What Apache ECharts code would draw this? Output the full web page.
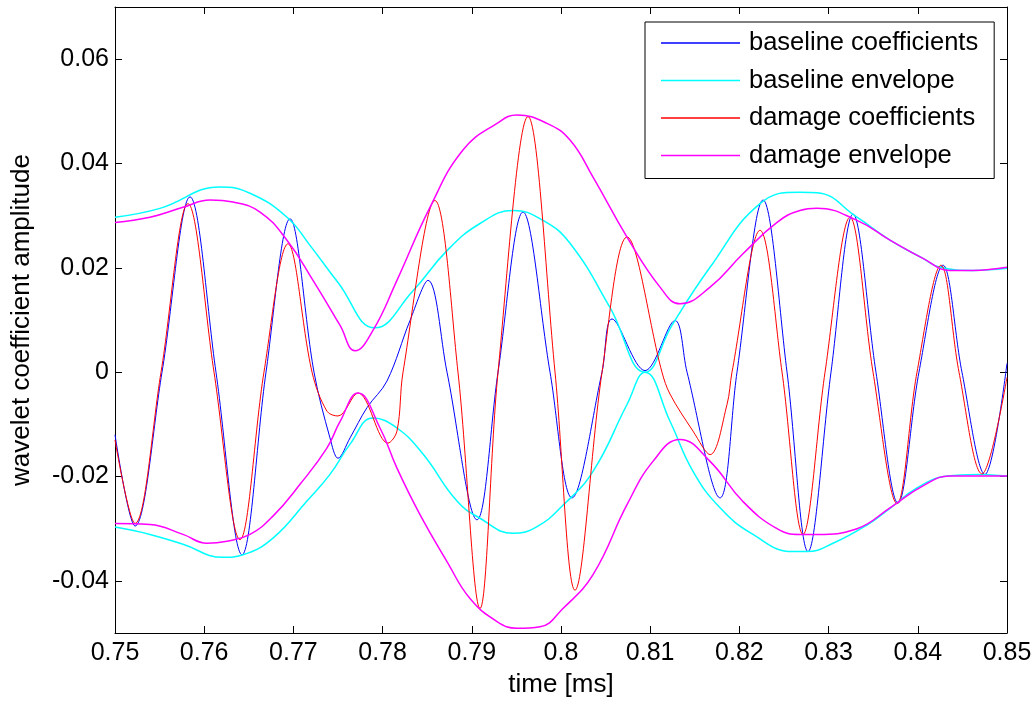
<!DOCTYPE html>
<html><head><meta charset="utf-8">
<script src="https://cdn.jsdelivr.net/npm/echarts@6/dist/echarts.min.js"></script>
<style>html,body{margin:0;padding:0;background:#fff}#chart{width:1036px;height:704px}</style>
</head><body><div id="chart"></div>
<script>
// time [ms], amplitude
const baseCoef = [
  [0.75,-0.012],[0.75224,-0.0295],[0.75527,0],[0.75841,0.0336],[0.76132,0],[0.76424,-0.035],
  [0.76693,0],[0.76962,0.0294],[0.77231,0],[0.7741,-0.0126],[0.775,-0.0165],[0.77635,-0.0126],
  [0.77825,-0.0068],[0.78049,-0.0017],[0.78307,0.0099],[0.78509,0.0176],[0.78722,0],
  [0.79058,-0.0283],[0.79294,0],[0.79574,0.0307],[0.79877,0],[0.80123,-0.0241],[0.8046,0],
  [0.80572,0.0102],[0.80942,0.0003],[0.81278,0.0099],[0.81413,0],[0.81783,-0.0241],[0.81973,0],
  [0.82265,0.033],[0.82534,0],[0.82769,-0.0344],[0.83027,0],[0.83274,0.0303],[0.83531,0],
  [0.83778,-0.0251],[0.84013,0],[0.84283,0.0205],[0.84495,0],[0.84753,-0.0196],[0.85,0.0017]
];
const damageCoef = [
  [0.75,-0.013],[0.75224,-0.029],[0.75516,0],[0.75818,0.0323],[0.7611,0],[0.76401,-0.0321],
  [0.7667,0],[0.76939,0.0246],[0.77209,0],[0.77377,-0.0075],[0.775,-0.0084],[0.77724,-0.004],
  [0.7806,-0.0136],[0.78161,-0.0113],[0.78229,0],[0.78587,0.0329],[0.78845,0],[0.79092,-0.0453],
  [0.79294,0],[0.7963,0.049],[0.79933,0],[0.80157,-0.0418],[0.8046,0],[0.8074,0.0259],
  [0.81132,0],[0.81222,-0.0042],[0.8148,-0.0113],[0.81671,-0.0158],[0.81861,-0.0062],[0.81917,0],
  [0.82231,0.0272],[0.82478,0],[0.82713,-0.0311],[0.8296,0],[0.8324,0.0297],[0.83498,0],
  [0.83767,-0.0252],[0.83991,0],[0.8426,0.0205],[0.84462,0],[0.8472,-0.0195],[0.85,-0.001]
];
const baseEnvUpper = [
  [0.75,0.0297],[0.75504,0.0314],[0.76177,0.0355],[0.76513,0.0343],[0.76928,0.0297],[0.77186,0.0243],
  [0.775,0.0172],[0.77915,0.0085],[0.78341,0.0156],[0.78722,0.0233],[0.79092,0.0285],[0.79462,0.031],
  [0.79798,0.0291],[0.80101,0.0247],[0.80549,0.0124],[0.80942,0],[0.81245,0.009],[0.81671,0.0201],
  [0.82231,0.0323],[0.82679,0.0345],[0.8287,0.0344],[0.83318,0.0297],[0.83688,0.0253],[0.84058,0.0218],
  [0.84249,0.0201],[0.84619,0.0195],[0.85,0.0199]
];
const baseEnvLower = [
  [0.75,-0.0297],[0.75392,-0.0311],[0.75762,-0.033],[0.76211,-0.0355],[0.76435,-0.035],[0.76771,-0.0318],
  [0.77152,-0.0247],[0.7741,-0.0196],[0.77635,-0.0138],[0.77892,-0.0088],[0.78161,-0.0107],[0.78453,-0.0157],
  [0.78834,-0.0247],[0.79092,-0.028],[0.79462,-0.0309],[0.79731,-0.0296],[0.80011,-0.0257],[0.80359,-0.019],
  [0.8074,-0.0062],[0.80942,0],[0.81222,-0.0094],[0.8148,-0.019],[0.81783,-0.026],[0.82152,-0.0311],
  [0.82601,-0.0344],[0.82758,-0.0344],[0.8305,-0.0328],[0.8343,-0.0293],[0.83688,-0.0261],[0.83991,-0.0222],
  [0.84327,-0.0199],[0.84664,-0.0196],[0.85,-0.0199]
];
const damageEnvUpper = [
  [0.75,0.0287],[0.75392,0.0297],[0.75762,0.0316],[0.76065,0.033],[0.76323,0.0326],[0.76626,0.0307],
  [0.76928,0.0253],[0.7722,0.0176],[0.77522,0.009],[0.77691,0.0041],[0.77892,0.008],[0.78161,0.0176],
  [0.78531,0.0316],[0.78901,0.0426],[0.79283,0.0477],[0.79507,0.0493],[0.79843,0.0477],[0.80101,0.0445],
  [0.80359,0.0374],[0.8074,0.0259],[0.8111,0.0163],[0.81334,0.0131],[0.81671,0.0163],[0.8204,0.0227],
  [0.82422,0.0287],[0.82679,0.031],[0.8287,0.0314],[0.83318,0.0291],[0.83688,0.0253],[0.84058,0.0218],
  [0.84361,0.0195],[0.84619,0.0195],[0.85,0.0201]
];
const damageEnvLower = [
  [0.75,-0.029],[0.75392,-0.0292],[0.75762,-0.0311],[0.76031,-0.0328],[0.76256,-0.0324],[0.76513,-0.0311],
  [0.76771,-0.0276],[0.77074,-0.0215],[0.77377,-0.0145],[0.77522,-0.0095],[0.77724,-0.004],[0.77971,-0.0107],
  [0.78161,-0.0184],[0.78419,-0.0273],[0.78722,-0.0363],[0.7898,-0.0434],[0.79283,-0.0478],[0.79507,-0.0491],
  [0.79765,-0.0488],[0.80022,-0.0453],[0.80359,-0.0388],[0.8074,-0.0254],[0.81031,-0.0171],[0.81334,-0.0129],
  [0.81671,-0.0171],[0.8204,-0.0248],[0.82422,-0.03],[0.82679,-0.0311],[0.8287,-0.0311],[0.83318,-0.03],
  [0.83688,-0.026],[0.84058,-0.0218],[0.84361,-0.0199],[0.85,-0.0199]
];
const yTickValues = [-0.04, -0.02, 0, 0.02, 0.04, 0.06];
const legendNames = ['baseline coefficients','baseline envelope','damage coefficients','damage envelope'];

const font = '"Liberation Sans", Arial, Helvetica, sans-serif';
const chart = echarts.init(document.getElementById('chart'), null, {renderer:'canvas'});
const lineAxis = {show:true, onZero:false, lineStyle:{color:'#000', width:1}};
const tick = {show:true, inside:true, length:7, lineStyle:{color:'#000', width:1}};
function mk(name, data, color, width, smooth) {
  return {type:'line', name:name, data:data, color:color, showSymbol:false, symbol:'none',
    smooth:smooth, lineStyle:{color:color, width:width}, xAxisIndex:0, yAxisIndex:0, silent:true};
}
const option = {
  animation:false,
  backgroundColor:'#fff',
  grid:{left:115, top:7, width:892, height:626, containLabel:false, outerBoundsMode:'none'},
  legend:{
    orient:'vertical', left:645, top:22, data:legendNames,
    icon:'rect', itemWidth:79, itemHeight:1.5, itemGap:7.5,
    padding:[6,16,8,16], borderColor:'#000', borderWidth:1, backgroundColor:'#fff',
    textStyle:{fontFamily:font, fontSize:25.5, color:'#000', lineHeight:30, padding:[0,0,0,4]}
  },
  xAxis:[
    {type:'value', min:0.75, max:0.85, interval:0.01, position:'bottom',
     axisLine:lineAxis, axisTick:tick, splitLine:{show:false},
     axisLabel:{fontFamily:font, fontSize:25, color:'#000', margin:8},
     name:'time [ms]', nameLocation:'middle', nameGap:39,
     nameTextStyle:{fontFamily:font, fontSize:26, color:'#000'}},
    {type:'value', min:0.75, max:0.85, interval:0.01, position:'top',
     axisLine:lineAxis, axisTick:tick, splitLine:{show:false}, axisLabel:{show:false}}
  ],
  yAxis:[
    {type:'value', min:-0.05, max:0.07, position:'left',
     axisLine:lineAxis, axisTick:Object.assign({customValues:yTickValues}, tick), splitLine:{show:false},
     axisLabel:{customValues:yTickValues, fontFamily:font, fontSize:25, color:'#000', margin:6,
       formatter:function(v){ return Math.abs(v) < 1e-9 ? '0' : v.toFixed(2); }},
     name:'wavelet coefficient amplitude', nameLocation:'middle', nameGap:80,
     nameTextStyle:{fontFamily:font, fontSize:26, color:'#000'}},
    {type:'value', min:-0.05, max:0.07, position:'right',
     axisLine:lineAxis, axisTick:Object.assign({customValues:yTickValues}, tick), splitLine:{show:false},
     axisLabel:{show:false}}
  ],
  series:[
    mk(legendNames[0], baseCoef, '#0000ff', 1, 0.35),
    mk(legendNames[1], baseEnvUpper, '#00ffff', 1.5, 0.45),
    mk(legendNames[1], baseEnvLower, '#00ffff', 1.5, 0.45),
    mk(legendNames[2], damageCoef, '#ff0000', 1, 0.35),
    mk(legendNames[3], damageEnvUpper, '#ff00ff', 1.5, 0.45),
    mk(legendNames[3], damageEnvLower, '#ff00ff', 1.5, 0.45)
  ]
};
chart.setOption(option);
</script></body></html>
